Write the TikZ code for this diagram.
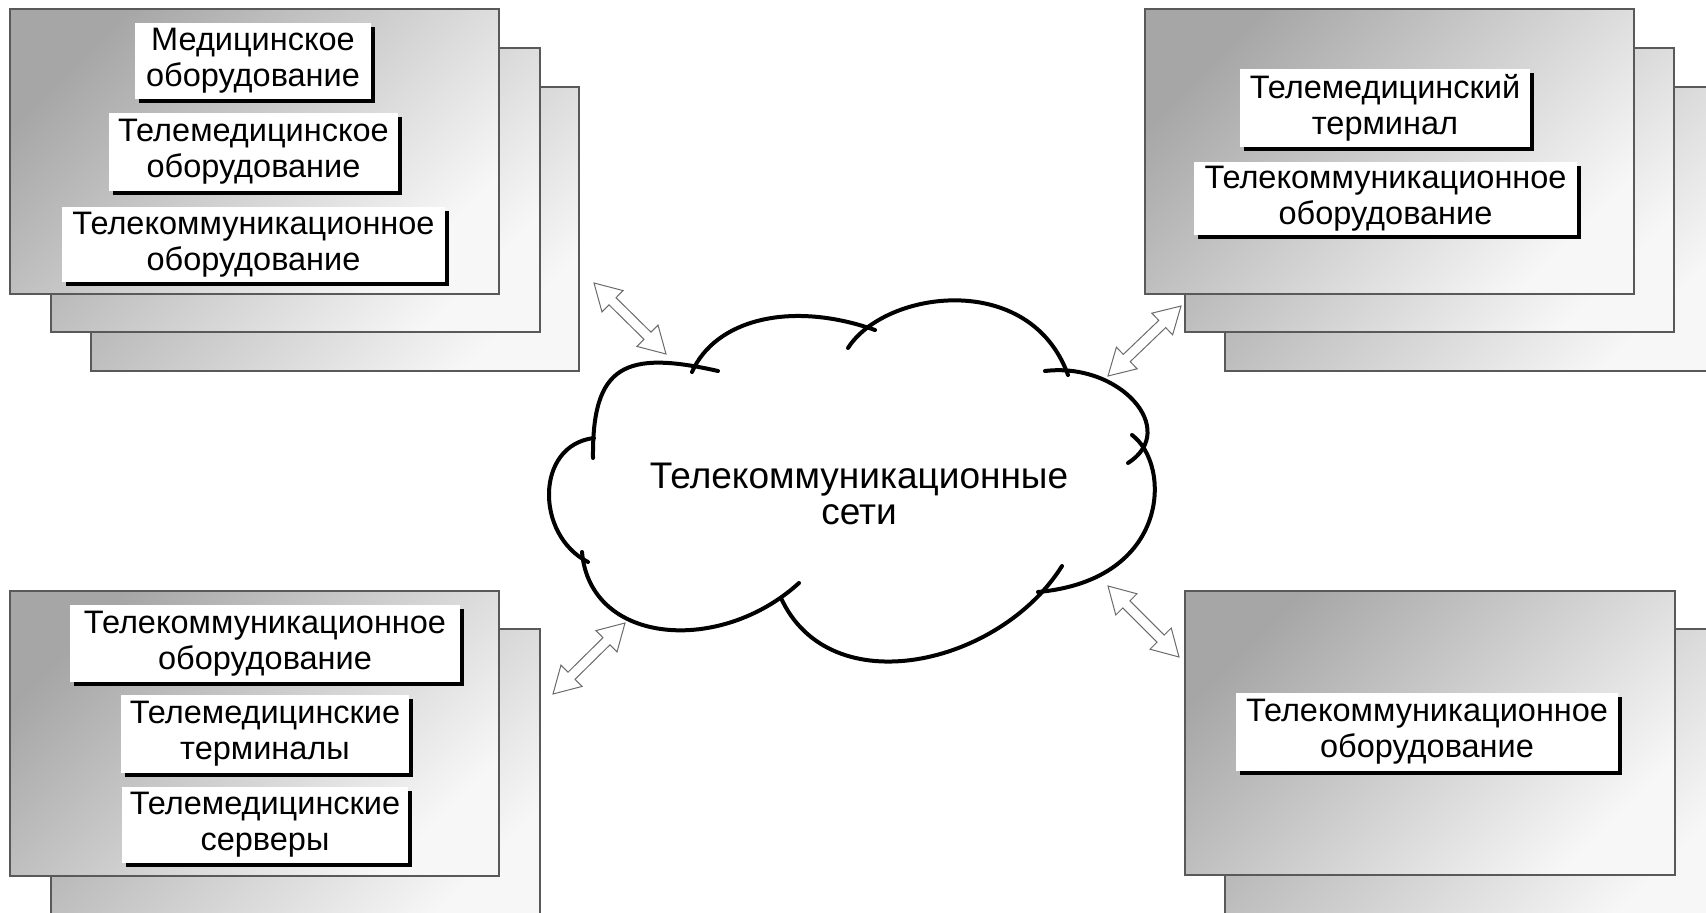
\documentclass[tikz,border=0pt]{standalone}
\usepackage{fontspec}
\setmainfont{Liberation Sans}
\usetikzlibrary{calc,shadows}
\tikzset{
  panel/.style={draw=black!65, line width=1.3pt, top color=black!35, bottom color=black!3, shading angle=45},
  lbl/.style={fill=white, inner sep=0pt, align=center, font=\fontsize{32.5}{36}\selectfont,
    drop shadow={shadow xshift=4pt, shadow yshift=-4pt, fill=black, opacity=1}},
  cloudline/.style={line width=4pt, line cap=round},
  dbl/.style={draw=black!58, line width=1pt, fill=white, line join=miter},
}
\newcommand\dblarr[2]{%
  \coordinate (h1) at ($(#1)!26pt!(#2)$);
  \coordinate (h2) at ($(#2)!26pt!(#1)$);
  \draw[dbl] (#1) -- ($(h1)!15pt!90:(#2)$) -- ($(h1)!5pt!90:(#2)$) -- ($(h2)!5pt!-90:(#1)$)
    -- ($(h2)!15pt!-90:(#1)$) -- (#2) -- ($(h2)!15pt!90:(#1)$) -- ($(h2)!5pt!90:(#1)$)
    -- ($(h1)!5pt!-90:(#2)$) -- ($(h1)!15pt!-90:(#2)$) -- cycle;}
\begin{document}
\begin{tikzpicture}[x=1pt, y=-1pt]
\useasboundingbox (0,0) rectangle (1706,913);
\clip (0,0) rectangle (1706,913);
% top-left group
\path[panel] (91,87) rectangle (579,371);
\path[panel] (51,48) rectangle (540,332);
\path[panel] (10,9) rectangle (499,294);
\node[lbl, minimum width=236pt, minimum height=76pt] (tl1) at (253,61) {Медицинское\\оборудование};
\node[lbl, minimum width=289pt, minimum height=78pt] (tl2) at (253.5,152) {Телемедицинское\\оборудование};
\node[lbl, minimum width=383pt, minimum height=75pt] (tl3) at (253.5,244.5) {Телекоммуникационное\\оборудование};
% top-right group
\path[panel] (1225,87) rectangle (1720,371);
\path[panel] (1185,48) rectangle (1674,332);
\path[panel] (1145,9) rectangle (1634,294);
\node[lbl, minimum width=290pt, minimum height=78pt] (tr1) at (1385,108) {Телемедицинский\\терминал};
\node[lbl, minimum width=383pt, minimum height=73pt] (tr2) at (1385.5,198.5) {Телекоммуникационное\\оборудование};
% bottom-left group
\path[panel] (51,629) rectangle (540,930);
\path[panel] (10,591) rectangle (499,876);
\node[lbl, minimum width=390pt, minimum height=77pt] (bl1) at (265,643.5) {Телекоммуникационное\\оборудование};
\node[lbl, minimum width=288pt, minimum height=78pt] (bl2) at (265,734) {Телемедицинские\\терминалы};
\node[lbl, minimum width=286pt, minimum height=76pt] (bl3) at (265,825) {Телемедицинские\\серверы};
% bottom-right group
\path[panel] (1225,629) rectangle (1720,930);
\path[panel] (1185,591) rectangle (1675,875);
\node[lbl, minimum width=382pt, minimum height=78pt] (br1) at (1427,732) {Телекоммуникационное\\оборудование};
% cloud
\draw[cloudline] (588,562) .. controls (535,535) and (535,445) .. (594,438);
\draw[cloudline] (593,458) .. controls (592,365) and (625,350) .. (718,371);
\draw[cloudline] (692,372) .. controls (715,320) and (790,300) .. (875,330);
\draw[cloudline] (848,348) .. controls (885,290) and (1030,270) .. (1068,375);
\draw[cloudline] (1045,371) .. controls (1120,362) and (1180,430) .. (1128,463);
\draw[cloudline] (1132,435) .. controls (1172,465) and (1170,580) .. (1038,592);
\draw[cloudline] (1062,566) .. controls (1000,665) and (830,705) .. (781,598);
\draw[cloudline] (799,583) .. controls (720,655) and (590,645) .. (582,552);
\node[font=\fontsize{37}{36}\selectfont, align=center] (net) at (859,494) {Телекоммуникационные\\сети};
% arrows
\coordinate (a1s) at (594,283); \coordinate (a1e) at (666,354);
\coordinate (a2s) at (1181,306); \coordinate (a2e) at (1108,376);
\coordinate (a3s) at (625,623); \coordinate (a3e) at (553,694);
\coordinate (a4s) at (1108,586); \coordinate (a4e) at (1179,657);
\dblarr{a1s}{a1e}
\dblarr{a2s}{a2e}
\dblarr{a3s}{a3e}
\dblarr{a4s}{a4e}
\end{tikzpicture}
\end{document}
